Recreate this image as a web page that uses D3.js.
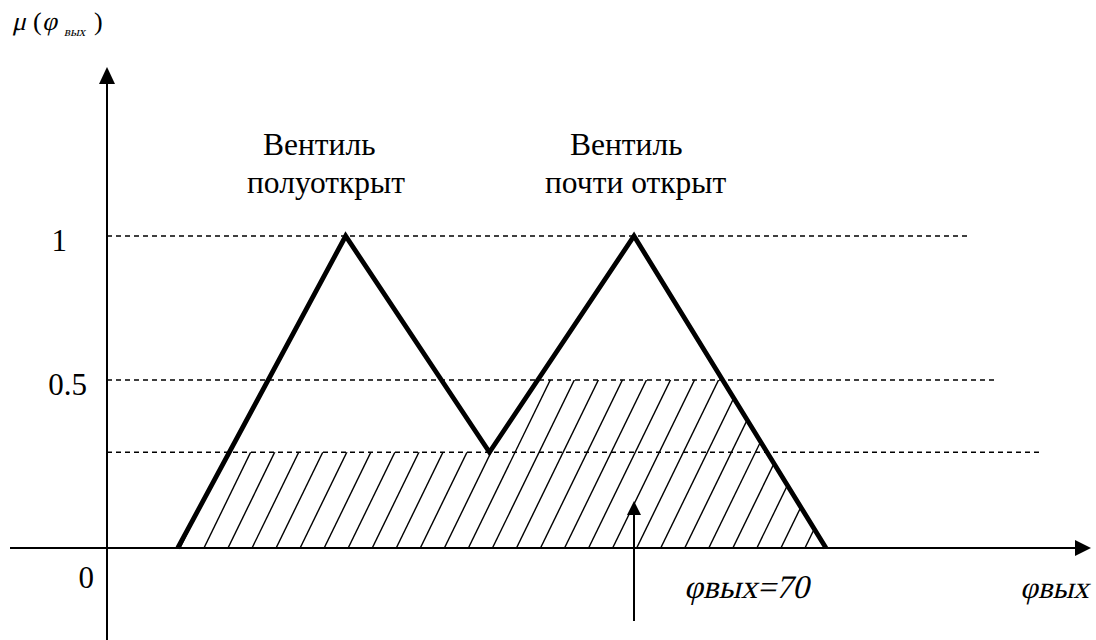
<!DOCTYPE html>
<html>
<head>
<meta charset="utf-8">
<script src="https://cdn.jsdelivr.net/npm/d3@7"></script>
<style>
  html, body { margin: 0; padding: 0; background: #fff; }
  svg { display: block; }
</style>
</head>
<body>
<svg id="chart" width="1096" height="640"></svg>
<script>
// ---- data ----
const shapePhi = [9.4, 31.7, 50.8, 70, 95.5];     // vertices of the two triangular terms (phi units)
const shapeMu  = [0, 1, 0.285, 1, 0];             // membership at those vertices
const levels      = [1, 0.5, 0.285];              // dashed levels
const levelEndPhi = [114.4, 118.1, 123.9];        // where each dashed level ends
const tickValues  = [1, 0.5, 0];
const tickLabels  = ["1", "0.5", "0"];
const termNames   = [["Вентиль", "полуоткрыт"], ["Вентиль", "почти открыт"]];
const cutLevels   = [0.285, 0.5];                 // activation cut of each term
const markerPhi   = 70;

// ---- layout ----
const FONT = "Liberation Serif";
const svg = d3.select("#chart");
const x = d3.scaleLinear().domain([0, 70]).range([107, 634]);
const y = d3.scaleLinear().domain([0, 0.5, 1]).range([548, 380, 236]);

const X0 = x(0), Y0 = y(0);

// dashed levels
svg.append("g").selectAll("line").data(levels).join("line")
  .attr("x1", X0).attr("x2", (d, i) => x(levelEndPhi[i]))
  .attr("y1", d => y(d)).attr("y2", d => y(d))
  .attr("stroke", "#000").attr("stroke-width", 1.4)
  .attr("stroke-dasharray", "5,4");

// clip region for hatching (union of the cut terms)
const P = shapePhi.map((p, i) => [x(p), y(shapeMu[i])]);
function atY(a, b, yy) { const t = (yy - a[1]) / (b[1] - a[1]); return [a[0] + t * (b[0] - a[0]), yy]; }
const c1 = y(cutLevels[0]), c2 = y(cutLevels[1]);
const clipPts = [
  P[0],
  atY(P[0], P[1], c1),
  P[2],
  atY(P[2], P[3], c2),
  atY(P[3], P[4], c2),
  P[4]
];
svg.append("clipPath").attr("id", "hclip")
  .append("path").attr("d", d3.line()(clipPts) + "Z");

const hatchStep = 24.04, hatchSlope = 0.49;
const hatchStarts = d3.range(203 - hatchStep * 2, P[4][0] + hatchStep, hatchStep);
svg.append("g").attr("clip-path", "url(#hclip)")
  .selectAll("line").data(hatchStarts).join("line")
  .attr("x1", d => d).attr("y1", Y0 + 2)
  .attr("x2", d => d + hatchSlope * (Y0 - 200)).attr("y2", 200)
  .attr("stroke", "#000").attr("stroke-width", 1.4);

// axes
svg.append("line").attr("x1", 10).attr("x2", 1078).attr("y1", Y0).attr("y2", Y0)
  .attr("stroke", "#000").attr("stroke-width", 2);
svg.append("path").attr("d", `M1091,${Y0} L1075,${Y0 - 8} L1075,${Y0 + 8} Z`).attr("fill", "#000");
svg.append("line").attr("x1", X0).attr("x2", X0).attr("y1", 640).attr("y2", 80)
  .attr("stroke", "#000").attr("stroke-width", 2);
svg.append("path").attr("d", `M${X0},67 L${X0 - 8},84 L${X0 + 8},84 Z`).attr("fill", "#000");

// membership function
svg.append("path")
  .attr("d", d3.line().x(d => x(d[0])).y(d => y(d[1]))(shapePhi.map((p, i) => [p, shapeMu[i]])))
  .attr("fill", "none").attr("stroke", "#000").attr("stroke-width", 4.8)
  .attr("stroke-linejoin", "miter");

// marker arrow at phi = 70
const mx = x(markerPhi);
svg.append("line").attr("x1", mx).attr("x2", mx).attr("y1", 621).attr("y2", 512)
  .attr("stroke", "#000").attr("stroke-width", 2);
svg.append("path").attr("d", `M${mx},501 L${mx - 7},515 L${mx + 7},515 Z`).attr("fill", "#000");

// tick labels
const tickEnds = [67, 87, 94];
svg.append("g").selectAll("text").data(tickValues).join("text")
  .attr("font-family", FONT)
  .attr("x", (d, i) => tickEnds[i]).attr("y", d => y(d) + (d === 0 ? 40 : 15))
  .attr("text-anchor", "end").attr("font-size", 31)
  .text((d, i) => tickLabels[i]);

// term names
const termPos = [[[263, 155], [247, 193]], [[570, 155], [545, 193]]];
termNames.forEach((lines, k) => {
  lines.forEach((t, j) => {
    svg.append("text").attr("font-family", FONT)
      .attr("x", termPos[k][j][0]).attr("y", termPos[k][j][1])
      .attr("font-size", 31.5).text(t);
  });
});

// oblique serif text (italic face of the serif font is not available)
function oblique(xp, yp, size, str) {
  return svg.append("g").attr("transform", `translate(${xp},${yp}) skewX(-13)`)
    .append("text").attr("font-family", FONT).attr("font-size", size).text(str);
}

// y-axis title  μ(φ вых)
oblique(12, 30, 26, "μ");
svg.append("text").attr("font-family", FONT).attr("font-size", 26).attr("x", 33).attr("y", 30).text("(");
oblique(42, 30, 26, "φ");
oblique(64, 36, 13, "вых");
svg.append("text").attr("font-family", FONT).attr("font-size", 26).attr("x", 94).attr("y", 30).text(")");

// marker label and x-axis title
oblique(684, 598, 33, "φвых=" + markerPhi);
oblique(1020, 598, 31, "φвых");
</script>
</body>
</html>
